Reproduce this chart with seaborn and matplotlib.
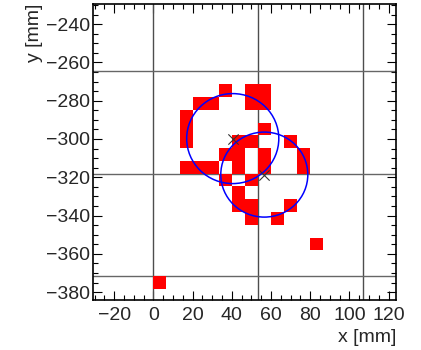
import numpy as np
import matplotlib
matplotlib.use("Agg")
import matplotlib.pyplot as plt
from matplotlib.colors import ListedColormap
from matplotlib.patches import Circle
from matplotlib.ticker import MultipleLocator
import seaborn as sns

# Fired calorimeter cells: cell centres in mm
hit_x = [36.71, 50.06, 56.74,
         23.36, 30.04, 50.06, 56.74,
         16.69,
         16.69, 56.74,
         16.69, 43.39, 50.06, 70.09,
         36.71, 43.39, 56.74, 76.76,
         16.69, 23.36, 30.04, 43.39, 56.74, 76.76,
         36.71, 50.06,
         43.39,
         43.39, 50.06, 70.09,
         50.06, 63.41,
         83.44,
         3.34]
hit_y = [-274.71, -274.71, -274.71,
         -281.39, -281.39, -281.39, -281.39,
         -288.06,
         -294.74, -294.74,
         -301.41, -301.41, -301.41, -301.41,
         -308.09, -308.09, -308.09, -308.09,
         -314.76, -314.76, -314.76, -314.76, -314.76, -314.76,
         -321.44, -321.44,
         -328.11,
         -334.79, -334.79, -334.79,
         -341.46, -341.46,
         -354.81,
         -374.84]

# Module boundaries (mm) and cell pitch
module_x = [0.0, 53.4, 106.8]
module_y = [-264.7, -318.1, -371.5]
cell_pitch = 6.675

# Reconstructed clusters: centre and radius (mm)
cluster_x = [40.5, 56.6]
cluster_y = [-299.8, -318.6]
cluster_r = [23.5, 22.2]

x_ticks = [-20, 0, 20, 40, 60, 80, 100, 120]
y_ticks = [-380, -360, -340, -320, -300, -280, -260, -240]
x_range = (-30.8, 123.8)
y_range = (-384.1, -229.5)

sns.set_style("white")
plt.rcParams["font.family"] = ["Liberation Sans", "DejaVu Sans"]

fig = plt.figure(figsize=(4.21, 3.50), dpi=100)
ax = fig.add_axes([93 / 421, 50 / 350, 303 / 421, 296 / 350])

# Module grid lines (drawn underneath the cells)
for xv in module_x:
    ax.axvline(xv, color="#4d4d4d", lw=1.0, zorder=1)
for yv in module_y:
    ax.axhline(yv, color="#666666", lw=1.0, zorder=1)

# Cells as a 2D histogram on the cell grid
x_edges = module_x[0] + cell_pitch * np.arange(0, 15)
y_edges = module_y[0] - cell_pitch * np.arange(17, -1, -1)
sns.histplot(x=hit_x, y=hit_y, bins=(x_edges, y_edges),
             cmap=ListedColormap(["#ff0000"]), ax=ax, zorder=2)

# Cluster circles and centres
for cx, cy, r in zip(cluster_x, cluster_y, cluster_r):
    ax.add_patch(Circle((cx, cy), r, fill=False, ec="#0000ff", lw=1.1, zorder=4))
sns.scatterplot(x=cluster_x, y=cluster_y, marker="x", s=55, color="#333333",
                linewidth=0.8, ax=ax, zorder=5)

ax.set_xlim(*x_range)
ax.set_ylim(*y_range)
ax.set_xticks(x_ticks)
ax.set_yticks(y_ticks)
ax.xaxis.set_minor_locator(MultipleLocator(5))
ax.yaxis.set_minor_locator(MultipleLocator(5))
ax.tick_params(which="both", direction="in", bottom=True, left=True,
               top=True, right=True, color="black", width=0.8, labelsize=14)
ax.tick_params(which="major", length=6.5)
ax.tick_params(which="minor", length=3.3)
ax.tick_params(axis="x", pad=5)
ax.tick_params(axis="y", pad=2)

for sp in ax.spines.values():
    sp.set_color("black")
    sp.set_linewidth(1.2)

ax.set_xlabel("x [mm]", loc="right", fontsize=14, labelpad=4)
ax.set_ylabel("y [mm]", loc="top", fontsize=14, labelpad=2)

fig.savefig("out.png", dpi=100)
